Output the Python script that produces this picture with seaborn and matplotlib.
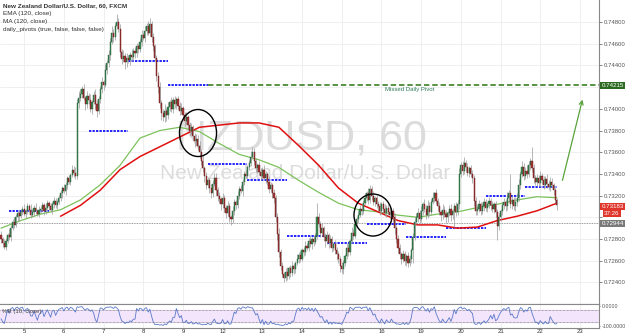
import numpy as np
import pandas as pd
import seaborn as sns
import matplotlib.pyplot as plt
from matplotlib.patches import Ellipse

# NZDUSD hourly closes, in pips (7305 -> 0.7305), 12 bars per row
close_pips = [
    7280, 7276, 7273, 7278, 7284, 7282, 7290, 7296, 7293, 7300, 7304, 7301,
    7305, 7308, 7303, 7306, 7310, 7307, 7302, 7305, 7309, 7306, 7303, 7307,
    7308, 7311, 7306, 7309, 7313, 7310, 7307, 7312, 7315, 7311, 7314, 7318,
    7322, 7327, 7324, 7330, 7336, 7333, 7339, 7344, 7341, 7338, 7405, 7410,
    7414, 7418, 7410, 7404, 7412, 7408, 7400, 7406, 7413, 7404, 7398, 7409,
    7418, 7425, 7422, 7436, 7442, 7450, 7462, 7470, 7466, 7476, 7480, 7474,
    7452, 7446, 7449, 7443, 7447, 7445, 7450, 7448, 7453, 7451, 7458, 7455,
    7462, 7468, 7465, 7472, 7476, 7470, 7478, 7466, 7458, 7447, 7430, 7420,
    7405, 7396, 7392, 7398, 7394, 7402, 7406, 7400, 7408, 7404, 7409, 7403,
    7398, 7401, 7394, 7389, 7392, 7385, 7380, 7383, 7375, 7370, 7372, 7366,
    7360, 7352, 7345, 7338, 7330, 7334, 7327, 7322, 7331, 7336, 7325, 7320,
    7317, 7312, 7318, 7309, 7304, 7310, 7300, 7298, 7306, 7314, 7311, 7320,
    7326, 7324, 7333, 7340, 7338, 7346, 7350, 7356, 7360, 7352, 7345, 7348,
    7342, 7338, 7344, 7336, 7340, 7333, 7326, 7330, 7322, 7318, 7300, 7285,
    7268, 7255, 7248, 7244, 7250, 7246, 7253, 7249, 7255, 7252, 7258, 7262,
    7265, 7262, 7270, 7268, 7274, 7272, 7278, 7275, 7280, 7277, 7283, 7300,
    7294, 7286, 7290, 7282, 7278, 7284, 7276, 7280, 7272, 7275, 7270, 7266,
    7262, 7255, 7252, 7258, 7264, 7272, 7268, 7278, 7286, 7283, 7294, 7298,
    7302, 7308, 7306, 7313, 7318, 7322, 7316, 7326, 7320, 7314, 7318, 7312,
    7310, 7306, 7312, 7308, 7304, 7309, 7305, 7302, 7306, 7300, 7290, 7280,
    7272, 7266, 7262, 7266, 7260, 7264, 7258, 7262, 7270, 7282, 7296, 7300,
    7304, 7298, 7306, 7312, 7308, 7302, 7310, 7305, 7314, 7318, 7322, 7315,
    7310, 7305, 7302, 7307, 7303, 7300, 7304, 7308, 7302, 7306, 7310, 7305,
    7312, 7340, 7348, 7343, 7350, 7346, 7341, 7345, 7340, 7336, 7315, 7306,
    7308, 7312, 7306, 7310, 7314, 7309, 7312, 7315, 7311, 7308, 7312, 7305,
    7292, 7300, 7306, 7311, 7314, 7310, 7318, 7322, 7312, 7316, 7310, 7314,
    7318, 7330, 7340, 7346, 7338, 7343, 7340, 7348, 7352, 7345, 7336, 7333,
    7336, 7332, 7338, 7334, 7330, 7335, 7331, 7328, 7333, 7330, 7325, 7316, 7311,
]
first_open = 7284
last_price = 0.73183

# wick lengths above / below the body, in pips
up_wick = [
    3, 2, 4, 3, 2, 5, 3, 2, 4, 3, 2, 3,
    3, 2, 4, 2, 3, 2, 5, 3, 2, 4, 2, 3,
    2, 3, 2, 4, 3, 2, 3, 2, 4, 3, 2, 3,
    3, 2, 4, 3, 2, 3, 2, 4, 3, 5, 4, 6,
    4, 3, 5, 2, 4, 3, 6, 2, 3, 5, 4, 3,
    3, 4, 2, 5, 3, 4, 3, 6, 4, 3, 7, 4,
    4, 3, 5, 2, 4, 3, 2, 5, 3, 4, 3, 2,
    3, 5, 2, 4, 3, 5, 6, 3, 4, 2, 3, 4,
    5, 3, 4, 6, 3, 4, 2, 5, 3, 4, 2, 3,
    3, 4, 2, 3, 5, 2, 3, 4, 2, 3, 5, 4,
    4, 3, 5, 2, 4, 3, 2, 4, 3, 5, 5, 3,
    3, 2, 4, 3, 2, 5, 3, 2, 4, 3, 2, 4,
    3, 4, 2, 3, 4, 2, 3, 5, 5, 4, 3, 2,
    4, 3, 2, 4, 3, 2, 5, 3, 2, 4, 3, 4,
    5, 3, 4, 2, 3, 4, 2, 3, 5, 3, 2, 4,
    3, 4, 2, 3, 4, 2, 3, 5, 2, 4, 3, 13,
    4, 3, 5, 2, 4, 3, 2, 4, 3, 2, 4, 3,
    3, 2, 4, 3, 2, 4, 3, 2, 5, 3, 4, 3,
    4, 3, 5, 3, 4, 2, 5, 4, 3, 4, 2, 3,
    3, 4, 2, 3, 4, 2, 3, 5, 2, 3, 4, 3,
    4, 3, 2, 4, 3, 2, 4, 3, 2, 4, 3, 4,
    5, 3, 4, 2, 5, 3, 6, 4, 3, 5, 1, 4,
    3, 4, 2, 5, 3, 4, 2, 3, 4, 2, 3, 4,
    4, 5, 3, 4, 6, 3, 4, 2, 3, 4, 3, 4,
    3, 4, 2, 3, 4, 3, 2, 4, 3, 4, 2, 3,
    3, 4, 2, 3, 4, 2, 5, 3, 18, 4, 3, 5,
    4, 5, 3, 6, 4, 3, 5, 4, 3, 13, 4, 3,
    4, 3, 5, 3, 4, 3, 5, 3, 4, 3, 2, 3, 2,
]
down_wick = [
    4, 3, 2, 3, 2, 3, 4, 2, 3, 2, 3, 4,
    2, 3, 2, 4, 3, 2, 3, 2, 4, 3, 2, 3,
    3, 2, 4, 3, 2, 3, 2, 4, 3, 2, 3, 2,
    3, 4, 2, 3, 4, 2, 3, 2, 4, 3, 3, 4,
    3, 4, 2, 5, 3, 4, 3, 5, 2, 4, 6, 3,
    4, 3, 5, 2, 4, 3, 5, 2, 4, 3, 2, 3,
    4, 5, 3, 6, 4, 3, 5, 4, 3, 4, 3, 4,
    3, 4, 2, 3, 4, 2, 3, 4, 5, 3, 4, 5,
    4, 6, 3, 4, 5, 3, 4, 3, 4, 3, 4, 3,
    4, 3, 4, 5, 3, 4, 5, 3, 4, 5, 3, 4,
    5, 4, 3, 5, 4, 3, 5, 4, 3, 2, 4, 5,
    4, 5, 3, 4, 5, 3, 4, 5, 3, 4, 3, 2,
    3, 2, 4, 3, 2, 3, 2, 3, 2, 4, 3, 4,
    3, 4, 3, 2, 4, 3, 4, 3, 4, 5, 4, 6,
    5, 4, 3, 4, 3, 4, 3, 4, 3, 4, 3, 2,
    4, 3, 2, 4, 3, 2, 3, 2, 4, 3, 2, 3,
    3, 4, 3, 4, 5, 3, 4, 3, 4, 3, 4, 5,
    4, 5, 3, 4, 3, 2, 4, 3, 2, 3, 2, 3,
    3, 2, 4, 3, 2, 3, 4, 3, 4, 3, 4, 3,
    3, 4, 3, 4, 3, 4, 3, 4, 3, 4, 5, 4,
    5, 4, 5, 3, 4, 5, 4, 3, 4, 12, 3, 2,
    4, 3, 2, 4, 3, 4, 3, 4, 3, 2, 4, 3,
    4, 3, 5, 4, 3, 5, 4, 3, 5, 4, 15, 4,
    3, 4, 3, 4, 3, 4, 3, 4, 3, 4, 5, 4,
    4, 3, 4, 3, 4, 3, 4, 3, 4, 3, 4, 5,
    13, 4, 3, 4, 3, 4, 3, 4, 3, 4, 3, 4,
    4, 3, 4, 3, 4, 3, 4, 3, 4, 3, 4, 3,
    4, 3, 4, 3, 4, 3, 4, 3, 4, 3, 4, 3, 4,
]

# EMA(120) sampled every 12 bars from bar 0, MA(120) every 12 bars from bar 36
ema_pips = [7290, 7297, 7303, 7307, 7316, 7330, 7348, 7373, 7380, 7383, 7379,
            7368, 7358, 7353, 7346, 7334, 7323, 7313, 7307, 7305, 7302, 7300,
            7303, 7305, 7309, 7312, 7316, 7319, 7318]
ma_pips = [7301, 7311, 7325, 7344, 7356, 7365, 7374, 7383, 7385, 7387, 7387,
           7383, 7366, 7348, 7327, 7313, 7305, 7297, 7293, 7293, 7290, 7291,
           7297, 7301, 7306, 7313]

# daily pivots, one per trading day (None = not shown)
pivot_pips = [7306, None, 7380, 7444, 7422, 7349, 7334, 7283, 7276, 7294,
              7282, 7290, 7320, 7328]
missed_pivot = 0.74215
ref_level = 0.72944
day_labels = ['5', '6', '7', '8', '9', '12', '13', '14', '15', '16',
              '19', '20', '21', '22', '23']

n = len(close_pips)
assert len(up_wick) == n and len(down_wick) == n

c = np.array(close_pips) / 10000
o = np.concatenate([[first_open / 10000], c[:-1]])
hi = np.maximum(o, c) + np.array(up_wick) / 10000
lo = np.minimum(o, c) - np.array(down_wick) / 10000
bars = pd.DataFrame({'bar': np.arange(n), 'open': o, 'high': hi, 'low': lo, 'close': c})

# Williams %R (10)
hh = bars['high'].rolling(10, min_periods=1).max()
ll = bars['low'].rolling(10, min_periods=1).min()
bars['wr'] = (hh - bars['close']) / (hh - ll) * -100

ema = pd.DataFrame({'bar': np.arange(len(ema_pips)) * 12, 'v': np.array(ema_pips) / 10000})
ma = pd.DataFrame({'bar': 36 + np.arange(len(ma_pips)) * 12, 'v': np.array(ma_pips) / 10000})

sns.set_style('white')
plt.rcParams['font.family'] = ['Liberation Sans', 'DejaVu Sans']

fig = plt.figure(figsize=(6.25, 3.36), dpi=100)
ax = fig.add_axes([0, 32 / 336, 599 / 625, 304 / 336])
ax2 = fig.add_axes([0, 8 / 336, 599 / 625, 24 / 336], sharex=ax)

xmin, xmax = -0.6, 361.5
day_ticks = 14 + 24 * np.arange(len(day_labels))
yticks = np.arange(0.724, 0.7481, 0.002)
grid_c = '#ededed'

ax.set_xlim(xmin, xmax)
ax.set_ylim(0.72201, 0.75003)
for t in day_ticks:
    ax.axvline(t, color=grid_c, lw=0.6, zorder=0)
    ax2.axvline(t, color=grid_c, lw=0.6, zorder=0)
for t in yticks:
    ax.axhline(t, color=grid_c, lw=0.6, zorder=0)

# watermark
ax.text(0.504, 0.543, 'NZDUSD, 60', transform=ax.transAxes, ha='center', va='center',
        fontsize=31, color='#dcdcdc', zorder=0.5)
ax.text(0.509, 0.428, 'New Zealand Dollar/U.S. Dollar', transform=ax.transAxes,
        ha='center', va='center', fontsize=15, color='#dcdcdc', zorder=0.5)

# reference level
ax.axhline(ref_level, color='#777777', lw=0.6, ls=(0, (1, 1)), zorder=1)

# pivots
for d, p in enumerate(pivot_pips):
    if p is None:
        continue
    x0 = 5 + 24 * d
    x1 = min(x0 + 24, n - 1)
    ax.plot([x0, x1], [p / 10000, p / 10000], color='#2424ff', lw=1.4,
            ls=(0, (1.2, 0.6)), zorder=2)
ax.plot([125, xmax], [missed_pivot, missed_pivot], color='#4b8a35', lw=1.3,
        ls=(0, (3, 1.6)), zorder=2)
ax.text(232, missed_pivot - 0.0004, 'Missed Daily Pivot', fontsize=4.3,
        color='#2d7a5a', va='center', zorder=3)

# moving averages
sns.lineplot(data=ema, x='bar', y='v', ax=ax, color='#7cc25b', lw=0.9, zorder=3)
sns.lineplot(data=ma, x='bar', y='v', ax=ax, color='#e01010', lw=1.1, zorder=3)

# candles
up = bars['close'] >= bars['open']
ax.vlines(bars['bar'], bars['low'], bars['high'], color='#9a9a9a', lw=0.5, zorder=4)
body = (bars['close'] - bars['open']).abs().clip(lower=0.00004)
ax.bar(bars['bar'][up], body[up], bottom=bars['open'][up], width=0.7,
       color='#3f8a55', edgecolor='#1f5a30', lw=0.3, zorder=5)
ax.bar(bars['bar'][~up], body[~up], bottom=bars['close'][~up], width=0.7,
       color='#a33838', edgecolor='#6a1515', lw=0.3, zorder=5)

# drawings
ax.add_patch(Ellipse((119.1, 0.73777), 22.4, 0.00433, fill=False, ec='black', lw=1.0, zorder=6))
ax.add_patch(Ellipse((224.9, 0.73021), 23, 0.00387, fill=False, ec='black', lw=1.0, zorder=6))
ax.annotate('', xy=(351.9, 0.74110), xytext=(339, 0.73316),
            arrowprops=dict(arrowstyle='->', color='#5aa33c', lw=0.9, mutation_scale=7),
            zorder=6)

# legend text
leg = ['New Zealand Dollar/U.S. Dollar, 60, FXCM', 'EMA (120, close)',
       'MA (120, close)', 'daily_pivots (true, false, false, false)']
for i, s in enumerate(leg):
    ax.text(0.005, 1 - (6 + 7.7 * i) / 304, s, transform=ax.transAxes, fontsize=4.6,
            color='#333333', va='center', fontweight='bold' if i == 0 else 'normal')

# right price axis; ticks hidden under the price tags stay unlabeled
ax.yaxis.tick_right()
ax.set_yticks(yticks)
hidden = [0.742, 0.730]
ax.set_yticklabels(['' if any(abs(t - h) < 1e-6 for h in hidden) else f'{t:.5f}' for t in yticks])
ax.tick_params(axis='y', labelsize=4.3, colors='#555555', length=2, width=0.5, pad=1.5)
ax.tick_params(axis='x', bottom=False, labelbottom=False)
ax.set_xlabel('')
ax.set_ylabel('')
for s in ['top', 'left']:
    ax.spines[s].set_visible(False)
ax.spines['right'].set_color('#888888')
ax.spines['bottom'].set_color('#888888')

tag = dict(fontsize=4.4, color='white', va='center', zorder=10,
           xycoords=ax.get_yaxis_transform(), textcoords='offset points',
           annotation_clip=False)
ax.annotate('0.74215', xy=(1.004, missed_pivot), xytext=(0, 0), ha='left',
            bbox=dict(fc='#2e6b22', ec='none', pad=0.9), **tag)
ax.annotate(f'{last_price:.5f}', xy=(1.004, c[-1]), xytext=(0, -1), ha='left',
            bbox=dict(fc='#e0352b', ec='none', pad=0.9), **tag)
ax.annotate('37:26', xy=(1.034, c[-1]), xytext=(0, -5.5), ha='right',
            bbox=dict(fc='#e0352b', ec='none', pad=0.9), **tag)
ax.annotate('0.72944', xy=(1.004, ref_level), xytext=(0, 0), ha='left',
            bbox=dict(fc='#7a7a7a', ec='none', pad=0.9), **tag)

# %R panel
ax2.set_ylim(-110, 10)
ax2.axhspan(-80, -20, color='#f3e6fc', zorder=0.5)
ax2.axhline(-20, color='#666666', lw=0.5, ls=(0, (1, 1)))
ax2.axhline(-80, color='#666666', lw=0.5, ls=(0, (1, 1)))
sns.lineplot(data=bars, x='bar', y='wr', ax=ax2, color='#5a78c8', lw=0.6, zorder=3)
ax2.text(0.003, 0.667, '%R (10, close)', transform=ax2.transAxes, fontsize=4.3,
         color='#444444', va='center')
ax2.yaxis.tick_right()
ax2.set_yticks([0, -100])
ax2.set_yticklabels(['0.0000', '-100.0000'])
ax2.tick_params(axis='y', labelsize=3.8, colors='#555555', length=1, width=0.5, pad=0.8)
ax2.set_xticks(day_ticks)
ax2.set_xticklabels(day_labels)
ax2.tick_params(axis='x', labelsize=4.3, colors='#333333', length=0, pad=1)
ax2.set_xlabel('')
ax2.set_ylabel('')
ax2.spines['left'].set_visible(False)
for s in ['top', 'bottom', 'right']:
    ax2.spines[s].set_color('#888888')
ax2.set_xlim(xmin, xmax)

fig.savefig('out.png', dpi=100, facecolor='white')
